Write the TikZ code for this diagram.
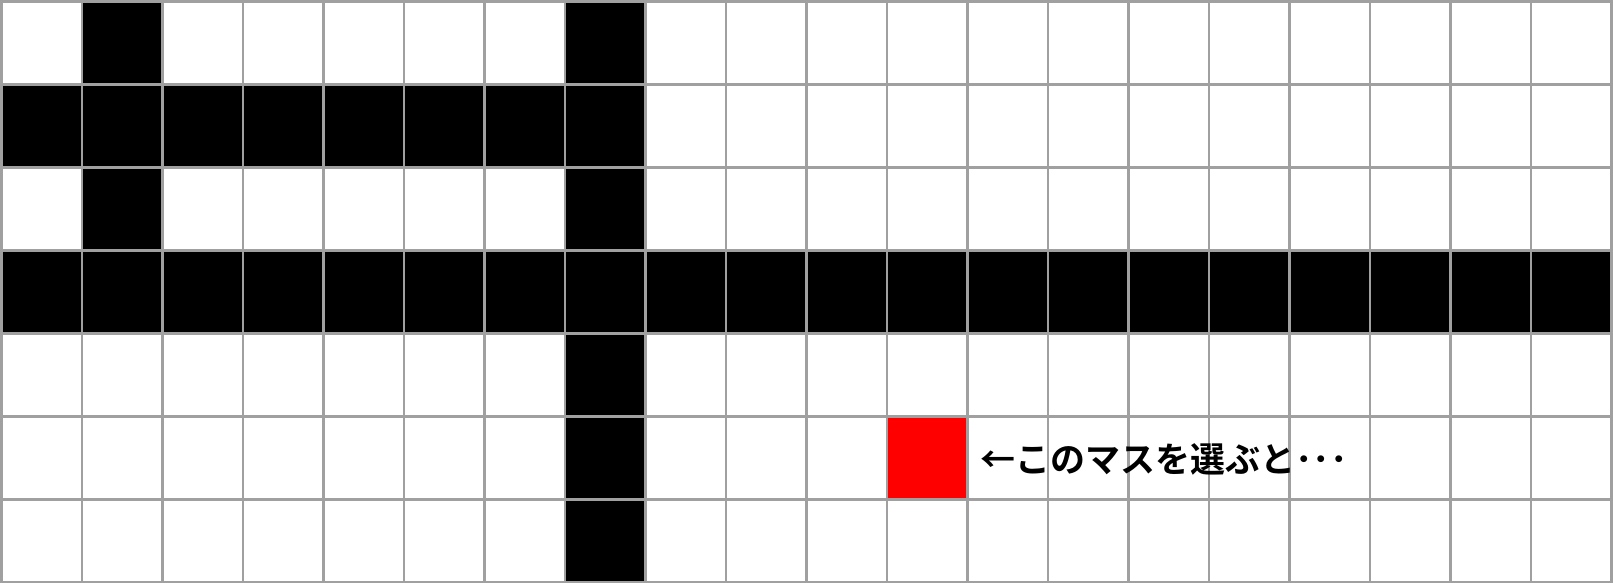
\documentclass[tikz,border=0pt]{standalone}
\usepackage{fontspec}
\newfontfamily\cjk{Noto Sans CJK JP}[BoldFont={Noto Sans CJK JP Bold}]
\definecolor{gridgray}{HTML}{A0A0A0}
\begin{document}
\begin{tikzpicture}[x=1pt,y=-1pt,
  blackcell/.style={fill=black},
  redcell/.style={fill=red},
  gridline/.style={draw=gridgray,line width=2.5pt}]
\useasboundingbox (0,0) rectangle (1613,583);
\fill[white] (0,0) rectangle (1613,583);
\def\cw{80.5}
\def\ch{83}
\def\ox{1.5}
\def\oy{1.5}
% black cells
\foreach \c/\r in {1/0,7/0,0/1,1/1,2/1,3/1,4/1,5/1,6/1,7/1,1/2,7/2,7/4,7/5,7/6}{
  \fill[blackcell] ({\ox+\c*\cw},{\oy+\r*\ch}) rectangle ++(\cw,\ch);
}
\foreach \c in {0,...,19}{
  \fill[blackcell] ({\ox+\c*\cw},{\oy+3*\ch}) rectangle ++(\cw,\ch);
}
\fill[redcell] ({\ox+11*\cw},{\oy+5*\ch}) rectangle ++(\cw,\ch);
% grid lines
\foreach \c in {0,...,20}{
  \draw[gridline] ({\ox+\c*\cw},0) -- ({\ox+\c*\cw},583);
}
\foreach \r in {0,...,7}{
  \draw[gridline] (0,{\oy+\r*\ch}) -- (1613,{\oy+\r*\ch});
}
\node[anchor=base west,inner sep=0pt,font=\cjk\bfseries\fontsize{35pt}{40pt}\selectfont] (label) at (980,472) {←このマスを選ぶと･･･};
\end{tikzpicture}
\end{document}
